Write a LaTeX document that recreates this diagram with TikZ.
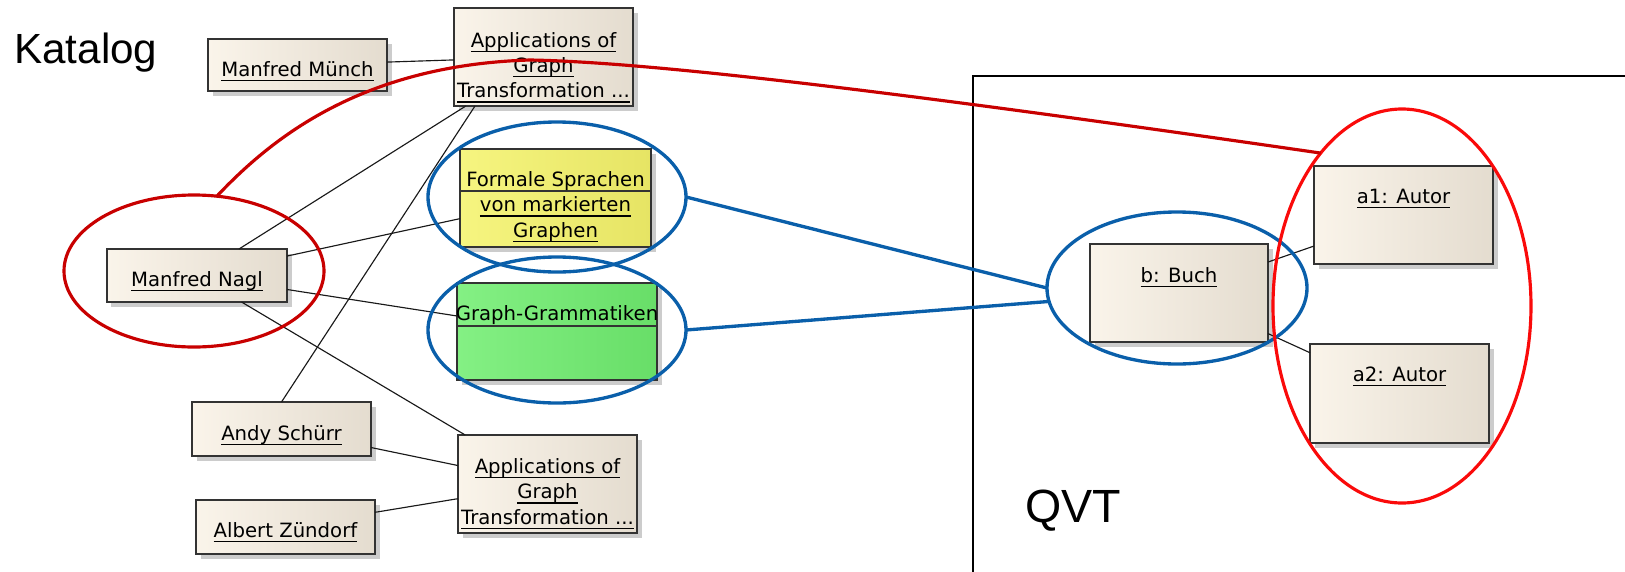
\documentclass[tikz,border=0pt]{standalone}
\usepackage{fontspec}
\setmainfont{Liberation Sans}
\newfontfamily\umlfont{DejaVu Sans}
\usetikzlibrary{calc,shadows,shapes.geometric}
\definecolor{boxl}{RGB}{250,244,234}
\definecolor{boxr}{RGB}{228,220,207}
\definecolor{yell}{RGB}{246,245,128}
\definecolor{yelr}{RGB}{230,228,100}
\definecolor{grnl}{RGB}{132,240,132}
\definecolor{grnr}{RGB}{104,222,104}
\definecolor{ringblue}{RGB}{10,95,170}
\definecolor{darkred}{RGB}{200,0,0}
\definecolor{lightred}{RGB}{250,10,10}
\newcommand{\uname}[1]{\setbox0=\hbox{#1}\rlap{\rule[-2.8pt]{\wd0}{0.8pt}}\box0}
\newcommand{\umllines}[1]{\begin{tabular}[t]{@{}c@{}}#1\end{tabular}}
\tikzstyle{umlbox}=[rectangle,draw=black!80,line width=0.8pt,left color=boxl,right color=boxr,inner sep=0pt,outer sep=0pt,drop shadow={shadow xshift=0.9mm,shadow yshift=-0.9mm,fill=black!25,opacity=0.8}]
\tikzstyle{umltext}=[anchor=base,inner sep=0pt,font=\umlfont\fontsize{11.2}{14.4}\selectfont]
\tikzstyle{umlline}=[draw=black!80,line width=0.8pt]
\tikzstyle{assoc}=[line width=0.65pt,black!90]
\tikzstyle{bigtext}=[anchor=base west,inner sep=0pt]
\tikzstyle{bluering}=[ellipse,draw=ringblue,line width=1.9pt,inner sep=0pt,outer sep=0pt]
\tikzstyle{redring}=[ellipse,line width=1.8pt,inner sep=0pt,outer sep=0pt]

\begin{document}
\begin{tikzpicture}[x=0.2mm, y=-0.2mm]
\useasboundingbox (0, 0) rectangle (1625, 572);
% Katalog
\node[bigtext, font=\fontsize{24}{28}\selectfont] at (14, 63) (katalog) {Katalog};
\node[umlbox, minimum width=35.8mm, minimum height=10.4mm] at (297.5, 65) (muench) {};
\node[umlbox, minimum width=35.8mm, minimum height=19.6mm] at (543.5, 57) (apptop) {};
\node[umlbox, left color=yell, right color=yelr, minimum width=38.2mm, minimum height=19.6mm] at (555.5, 198) (yel) {};
\node[umlbox, left color=grnl, right color=grnr, minimum width=40mm, minimum height=19.4mm] at (557, 331.5) (grn) {};
\node[umlbox, minimum width=36mm, minimum height=10.6mm] at (197, 275.5) (nagl) {};
\node[umlbox, minimum width=35.8mm, minimum height=10.8mm] at (281.5, 429) (andy) {};
\node[umlbox, minimum width=35.8mm, minimum height=10.8mm] at (285.5, 527) (albert) {};
\node[umlbox, minimum width=35.8mm, minimum height=19.6mm] at (547.5, 484) (appbot) {};
\draw[umlline] ($(yel.north west)+(0, 42)$) -- ($(yel.north east)+(0, 42)$);
\draw[umlline] ($(grn.north west)+(0, 43)$) -- ($(grn.north east)+(0, 43)$);
\node[umltext] at ($(muench.north)+(0, 37.5)$) (muench-t) {\uname{Manfred Münch}};
\node[umltext] at ($(apptop.north)+(0, 39)$) (apptop-t) {\umllines{\uname{Applications of}\\\uname{Graph}\\\uname{Transformation ...}}};
\node[umltext] at ($(yel.north)+(0, 37.5)$) (yel-t) {\umllines{Formale Sprachen\\\uname{von markierten}\\\uname{Graphen}}};
\node[umltext] at ($(grn.north)+(0, 37.5)$) (grn-t) {Graph-Grammatiken};
\node[umltext] at ($(nagl.north)+(0, 37.5)$) (nagl-t) {\uname{Manfred Nagl}};
\node[umltext] at ($(andy.north)+(0, 38)$) (andy-t) {\uname{Andy Schürr}};
\node[umltext] at ($(albert.north)+(0, 37.5)$) (albert-t) {\uname{Albert Zündorf}};
\node[umltext] at ($(appbot.north)+(0, 38.5)$) (appbot-t) {\umllines{\uname{Applications of}\\\uname{Graph}\\\uname{Transformation ...}}};
\draw[assoc] (muench) -- (apptop);
\draw[assoc] (nagl) -- (apptop);
\draw[assoc] (nagl) -- (yel);
\draw[assoc] (nagl) -- (grn);
\draw[assoc] (nagl) -- (appbot);
\draw[assoc] (andy.north) -- ($(apptop.south west)+(21, 0)$);
\draw[assoc] (andy) -- (appbot);
\draw[assoc] (albert) -- (appbot);
% QVT
\draw[line width=1.1pt] (973, 572) |- (1625, 76);
\node[bigtext, font=\fontsize{26.5}{30}\selectfont] at (1025, 522) (qvt) {QVT};
\node[umlbox, minimum width=35.6mm, minimum height=19.6mm] at (1179, 293) (buch) {};
\node[umlbox, minimum width=35.8mm, minimum height=19.6mm] at (1403.5, 215) (aut1) {};
\node[umlbox, minimum width=35.8mm, minimum height=19.8mm] at (1399.5, 393.5) (aut2) {};
\node[umltext] at ($(buch.north)+(0, 38)$) (buch-t) {\uname{b: Buch}};
\node[umltext] at ($(aut1.north)+(0, 37.5)$) (aut1-t) {\uname{a1: Autor}};
\node[umltext] at ($(aut2.north)+(0, 37.5)$) (aut2-t) {\uname{a2: Autor}};
\draw[assoc] (buch) -- (aut1);
\draw[assoc] (buch) -- (aut2);
% markings
\node[bluering, minimum width=51.6mm, minimum height=30mm] at (557, 197) (ringyel) {};
\node[bluering, minimum width=51.6mm, minimum height=29.2mm] at (557, 330) (ringgrn) {};
\node[bluering, minimum width=52mm, minimum height=30.4mm] at (1177, 288) (ringbuch) {};
\node[redring, draw=darkred, minimum width=52mm, minimum height=30.4mm] at (194, 271) (ringnagl) {};
\node[redring, draw=lightred, minimum width=51.6mm, minimum height=78.8mm] at (1402, 306) (ringautor) {};
\draw[ringblue, line width=1.9pt] (ringyel.east) -- (ringbuch.west);
\draw[ringblue, line width=1.9pt] (ringgrn.east) -- (ringbuch.186);
\coordinate (peak) at (530, 60);
\draw[darkred, line width=1.8pt] (ringnagl.73) .. controls (270, 140) and (360, 65) .. (peak)
  .. controls (650, 62) and (900, 92) .. (ringautor.118);
\end{tikzpicture}
\end{document}
